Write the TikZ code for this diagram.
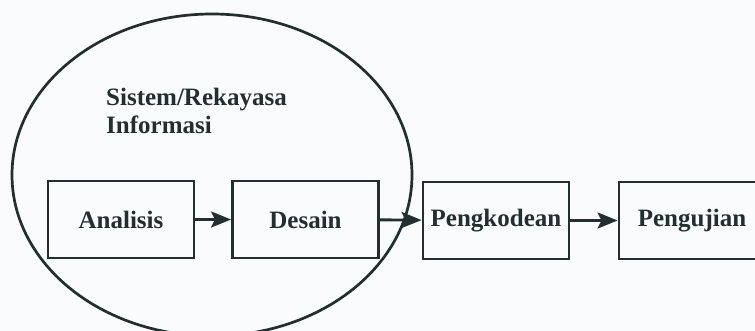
\documentclass[tikz,border=0pt]{standalone}
\usepackage{fontspec}
\setmainfont{Liberation Serif}
\usetikzlibrary{shapes.geometric,arrows.meta}
\definecolor{ink}{RGB}{36,46,48}
\definecolor{paper}{RGB}{249,251,252}
\tikzset{
  stagebox/.style={draw=ink, line width=2.9pt, minimum width=146pt, minimum height=77pt, inner sep=0pt,
    text=ink, font=\fontsize{25}{28}\selectfont\bfseries},
  flow/.style={draw=ink, line width=2.9pt, -{Stealth[length=20pt,width=16pt,inset=4pt]}},
  scope ring/.style={draw=ink, line width=2.7pt, ellipse, minimum width=400pt, minimum height=322pt, inner sep=0pt},
  titletext/.style={text=ink, font=\fontsize{25}{28}\selectfont\bfseries, align=left, inner sep=0pt}
}
\begin{document}
\begin{tikzpicture}[x=1pt,y=-1pt]
  \useasboundingbox (0,0) rectangle (755,331);
  \fill[paper] (0,0) rectangle (755,331);
  \clip (0,0) rectangle (755,331);
  \node[scope ring] (sys) at (212,175) {};
  \node[titletext, anchor=north west] (title) at (106,88) {Sistem/Rekayasa\\Informasi};
  \node[stagebox] (ana) at (121,219.5) {Analisis};
  \node[stagebox] (des) at (305.5,219.5) {Desain};
  \node[stagebox] (kod) at (496,220.5) {Pengkodean};
  \node[stagebox] (uji) at (692,220.5) {Pengujian};
  \draw[flow] (ana) -- (des);
  \draw[flow] (des) -- (kod);
  \draw[flow] (kod) -- (uji);
\end{tikzpicture}
\end{document}
